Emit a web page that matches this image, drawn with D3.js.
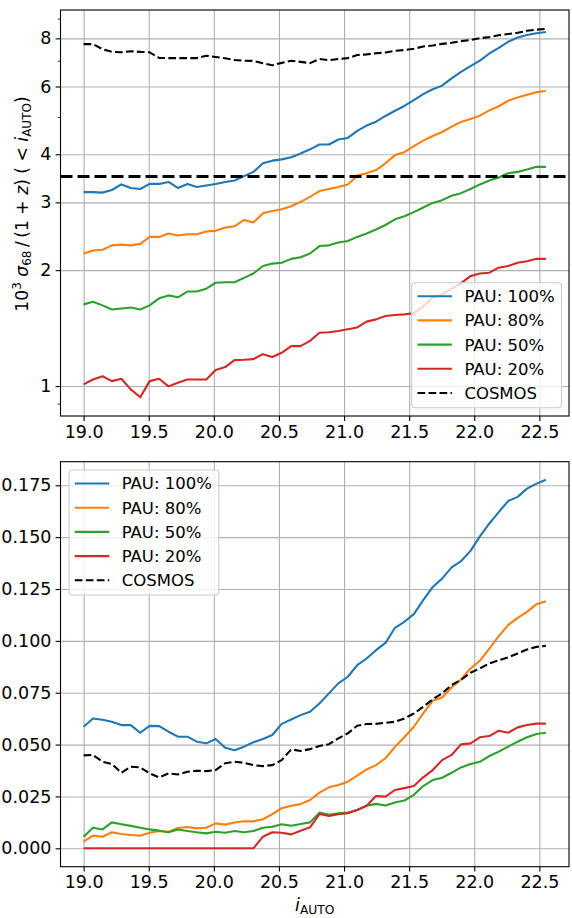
<!DOCTYPE html>
<html><head><meta charset="utf-8">
<script src="https://cdn.jsdelivr.net/npm/d3@7"></script>
<style>
body{margin:0;background:#fff}
svg{display:block}
text{font-family:"DejaVu Sans",sans-serif;fill:#000}
</style>
</head><body>
<svg id="chart" width="572" height="918"></svg>
<script>
// ---------- data ----------
const magnitudes = [19.000,19.072,19.145,19.217,19.290,19.362,19.435,19.507,19.580,19.652,
  19.724,19.797,19.869,19.942,20.014,20.087,20.159,20.232,20.304,20.377,
  20.449,20.521,20.594,20.666,20.739,20.811,20.884,20.956,21.029,21.101,
  21.173,21.246,21.318,21.391,21.463,21.536,21.608,21.681,21.753,21.826,
  21.898,21.971,22.043,22.116,22.188,22.260,22.333,22.405,22.478,22.550];

const seriesNames = ["PAU: 100%","PAU: 80%","PAU: 50%","PAU: 20%","COSMOS"];

// top panel: 10^3 sigma68/(1+z)
const topPAU100 = [3.19,3.19,3.18,3.23,3.34,3.27,3.25,3.35,3.35,3.39,3.27,3.35,3.29,3.32,3.35,3.39,3.42,3.51,3.60,3.79,3.85,3.88,3.93,4.02,4.12,4.24,4.24,4.37,4.41,4.60,4.75,4.86,5.03,5.19,5.34,5.53,5.73,5.90,6.03,6.30,6.55,6.78,7.00,7.31,7.56,7.84,8.04,8.16,8.25,8.31];
const topPAU80 = [2.21,2.25,2.26,2.32,2.33,2.32,2.34,2.44,2.44,2.49,2.46,2.48,2.48,2.52,2.53,2.58,2.60,2.70,2.66,2.81,2.85,2.88,2.93,3.01,3.10,3.21,3.25,3.29,3.34,3.52,3.57,3.64,3.79,3.98,4.05,4.20,4.34,4.46,4.57,4.72,4.85,4.94,5.04,5.20,5.33,5.51,5.62,5.71,5.80,5.84];
const topPAU50 = [1.63,1.655,1.62,1.58,1.59,1.60,1.58,1.62,1.69,1.72,1.70,1.76,1.76,1.79,1.855,1.86,1.86,1.91,1.96,2.05,2.08,2.09,2.14,2.16,2.21,2.31,2.32,2.36,2.38,2.44,2.49,2.55,2.62,2.71,2.76,2.83,2.91,2.99,3.04,3.12,3.17,3.25,3.34,3.42,3.48,3.57,3.60,3.65,3.71,3.71];
const topPAU20 = [1.01,1.04,1.06,1.03,1.045,0.98,0.935,1.03,1.045,0.998,1.02,1.04,1.04,1.04,1.10,1.12,1.168,1.17,1.175,1.21,1.19,1.22,1.27,1.27,1.31,1.375,1.38,1.39,1.405,1.42,1.47,1.49,1.52,1.53,1.535,1.545,1.61,1.70,1.73,1.79,1.85,1.93,1.96,1.97,2.03,2.05,2.09,2.11,2.14,2.14];
const topCOSMOS = [7.73,7.73,7.50,7.38,7.36,7.41,7.38,7.36,7.12,7.11,7.11,7.11,7.11,7.21,7.16,7.10,7.03,7.00,6.99,6.89,6.81,6.91,7.00,6.95,6.90,7.07,7.02,7.07,7.11,7.24,7.27,7.32,7.35,7.43,7.46,7.52,7.62,7.67,7.74,7.79,7.87,7.92,8.01,8.06,8.15,8.21,8.27,8.37,8.43,8.47];
const topReference = 3.5;

// bottom panel: outlier fraction
const botPAU100 = [0.0586,0.0626,0.0620,0.0610,0.0594,0.0594,0.0557,0.0590,0.0589,0.0562,0.0538,0.0538,0.0514,0.0506,0.0527,0.0485,0.0473,0.0490,0.0511,0.0527,0.0546,0.0600,0.0621,0.0642,0.0658,0.0698,0.0747,0.0795,0.0827,0.0883,0.0915,0.0955,0.0990,0.1063,0.1092,0.1129,0.1196,0.1260,0.1300,0.1354,0.1384,0.1434,0.1504,0.1566,0.1621,0.1674,0.1694,0.1734,0.1758,0.1777];
const botPAU80 = [0.0032,0.0061,0.0056,0.0077,0.0069,0.0064,0.0061,0.0075,0.0083,0.0080,0.0098,0.0103,0.0096,0.0099,0.0120,0.0114,0.0124,0.0130,0.0130,0.0140,0.0165,0.0193,0.0205,0.0213,0.0233,0.0268,0.0294,0.0305,0.0321,0.0350,0.0380,0.0401,0.0434,0.0489,0.0535,0.0586,0.0650,0.0711,0.0727,0.0775,0.0814,0.0867,0.0904,0.0963,0.1023,0.1076,0.1111,0.1140,0.1177,0.1191];
const botPAU50 = [0.0056,0.0099,0.0091,0.0125,0.0116,0.0108,0.0099,0.0091,0.0085,0.0077,0.0091,0.0083,0.0077,0.0072,0.0080,0.0075,0.0083,0.0077,0.0083,0.0099,0.0104,0.0116,0.0109,0.0117,0.0125,0.0172,0.0161,0.0169,0.0172,0.0185,0.0205,0.0214,0.0206,0.0221,0.0230,0.0258,0.0300,0.0329,0.0340,0.0364,0.0390,0.0406,0.0417,0.0445,0.0466,0.0490,0.0514,0.0535,0.0551,0.0557];
const botPAU20 = [0,0,0,0,0,0,0,0,0,0,0,0,0,0,0,0,0,0,0,0.0056,0.0077,0.0075,0.0067,0.0085,0.0101,0.0165,0.0156,0.0164,0.0169,0.0185,0.0205,0.0252,0.0249,0.0281,0.0290,0.0300,0.0342,0.0377,0.0425,0.0450,0.0501,0.0506,0.0535,0.0541,0.0567,0.0557,0.0583,0.0594,0.0601,0.0601];
const botCOSMOS = [0.0448,0.0450,0.0417,0.0406,0.0364,0.0393,0.0390,0.0361,0.0342,0.0361,0.0356,0.0369,0.0374,0.0372,0.0377,0.0410,0.0417,0.0412,0.0401,0.0396,0.0401,0.0425,0.0477,0.0469,0.0478,0.0493,0.0502,0.0530,0.0554,0.0591,0.0599,0.0600,0.0605,0.0610,0.0626,0.0650,0.0682,0.0718,0.0747,0.0787,0.0812,0.0846,0.0867,0.0891,0.0907,0.0920,0.0939,0.0958,0.0971,0.0976];

const xTicks = [19.0,19.5,20.0,20.5,21.0,21.5,22.0,22.5];
const topYTicks = [1,2,3,4,6,8];
const topYMinor = [0.9,5,7,9];
const botYTicks = [0,0.025,0.05,0.075,0.1,0.125,0.15,0.175];

// ---------- layout ----------
const colors = ["#1f77b4","#ff7f0e","#2ca02c","#d62728","#000000"];
const xL = 60.5, xR = 569;
const P1 = {top:10, bottom:416};
const P2 = {top:461.7, bottom:866.7};
const tickFont = 17.5, legendFont = 16.5;
const lw = 2.1;

const svg = d3.select("#chart");
const x = d3.scaleLinear().domain([18.8225, 22.7275]).range([xL, xR]);
const yTop = d3.scaleLog().domain([0.836, 9.48]).range([P1.bottom, P1.top]);
const yBot = d3.scaleLinear().domain([-0.008875, 0.186375]).range([P2.bottom, P2.top]);

function drawPanel(P, y, yTicks, yFmt, yMinor, series, extra, legendPos) {
  const g = svg.append("g");
  const h = P.bottom - P.top, w = xR - xL;
  // grid
  const gx = g.append("g").attr("transform", `translate(0,${P.bottom})`)
    .call(d3.axisBottom(x).tickValues(xTicks).tickSize(-h).tickFormat(""));
  const gy = g.append("g").attr("transform", `translate(${xL},0)`)
    .call(d3.axisLeft(y).tickValues(yTicks).tickSize(-w).tickFormat(""));
  [gx, gy].forEach(a => {
    a.select(".domain").remove();
    a.selectAll("line").attr("stroke", "#b0b0b0").attr("stroke-width", 1.1);
  });
  // lines
  const line = d3.line().x((d,i) => x(magnitudes[i])).y(d => y(d));
  series.forEach((s, k) => {
    g.append("path").datum(s).attr("d", line).attr("fill","none")
      .attr("stroke", colors[k]).attr("stroke-width", lw)
      .attr("stroke-linejoin","round")
      .attr("stroke-dasharray", k === 4 ? "7.7,3.3" : null);
  });
  if (extra !== null) {
    g.append("line").attr("x1", xL).attr("x2", xR).attr("y1", y(extra)).attr("y2", y(extra))
      .attr("stroke","#000").attr("stroke-width",3).attr("stroke-dasharray","12,5");
  }
  // axes
  const ax = g.append("g").attr("transform", `translate(0,${P.bottom})`)
    .call(d3.axisBottom(x).tickValues(xTicks).tickSize(4.9).tickPadding(4.2).tickFormat(d3.format(".1f")));
  const ay = g.append("g").attr("transform", `translate(${xL},0)`)
    .call(d3.axisLeft(y).tickValues(yTicks).tickSize(4.9).tickPadding(4.2).tickFormat(yFmt));
  [ax, ay].forEach(a => {
    a.select(".domain").remove();
    a.selectAll("line").attr("stroke","#000").attr("stroke-width",1.1);
    a.selectAll("text").attr("font-size", tickFont).attr("font-family", "DejaVu Sans");
  });
  if (yMinor) {
    const am = g.append("g").attr("transform", `translate(${xL},0)`)
      .call(d3.axisLeft(y).tickValues(yMinor).tickSize(2.8).tickFormat(""));
    am.select(".domain").remove();
    am.selectAll("line").attr("stroke","#000").attr("stroke-width",0.8);
  }
  // spines
  g.append("rect").attr("x", xL).attr("y", P.top).attr("width", w).attr("height", h)
    .attr("fill","none").attr("stroke","#000").attr("stroke-width",1.1);
  // legend
  const L = legendPos;
  const lg = g.append("g");
  lg.append("rect").attr("x", L.x).attr("y", L.y).attr("width", 149.8).attr("height", 125)
    .attr("rx", 3.5).attr("fill","#fff").attr("fill-opacity",0.8)
    .attr("stroke","#cccccc").attr("stroke-width",1.1);
  seriesNames.forEach((name, k) => {
    const cy = L.y + 13.5 + k * 24.2;
    lg.append("line").attr("x1", L.x + 5.8).attr("x2", L.x + 40.2).attr("y1", cy).attr("y2", cy)
      .attr("stroke", colors[k]).attr("stroke-width", lw)
      .attr("stroke-dasharray", k === 4 ? "7.7,3.3" : null);
    lg.append("text").attr("x", L.x + 52.7).attr("y", cy).attr("dy","0.36em")
      .attr("font-size", legendFont).text(name);
  });
}

drawPanel(P1, yTop, topYTicks, d3.format("d"), topYMinor,
  [topPAU100, topPAU80, topPAU50, topPAU20, topCOSMOS], topReference, {x:411.7, y:282.7});
drawPanel(P2, yBot, botYTicks, d3.format(".3f"), null,
  [botPAU100, botPAU80, botPAU50, botPAU20, botCOSMOS], null, {x:69, y:470});

// y label (top)
const yl = svg.append("text").attr("transform","translate(27.5,204) rotate(-90)")
  .attr("text-anchor","middle").attr("font-size", 17.2);
yl.append("tspan").text("10");
yl.append("tspan").attr("dy",-7).attr("font-size",12).text("3");
yl.append("tspan").attr("dy",7).text(" ");
yl.append("tspan").attr("font-style","italic").text("σ");
yl.append("tspan").attr("dy",3.5).attr("font-size",12).text("68");
yl.append("tspan").attr("dy",-3.5).text("\u2009/\u2009(1 + ");
yl.append("tspan").attr("font-style","italic").text("z");
yl.append("tspan").text(") ( < ");
yl.append("tspan").attr("font-style","italic").text("i");
yl.append("tspan").attr("dy",3.5).attr("font-size",12).text("AUTO");
yl.append("tspan").attr("dy",-3.5).text(")");

// x label (bottom)
const xlab = svg.append("text").attr("x", (xL + xR) / 2).attr("y", 911)
  .attr("text-anchor","middle").attr("font-size", tickFont);
xlab.append("tspan").attr("font-style","italic").text("i");
xlab.append("tspan").attr("dy",3).attr("font-size",12.3).text("AUTO");
</script>
</body></html>
